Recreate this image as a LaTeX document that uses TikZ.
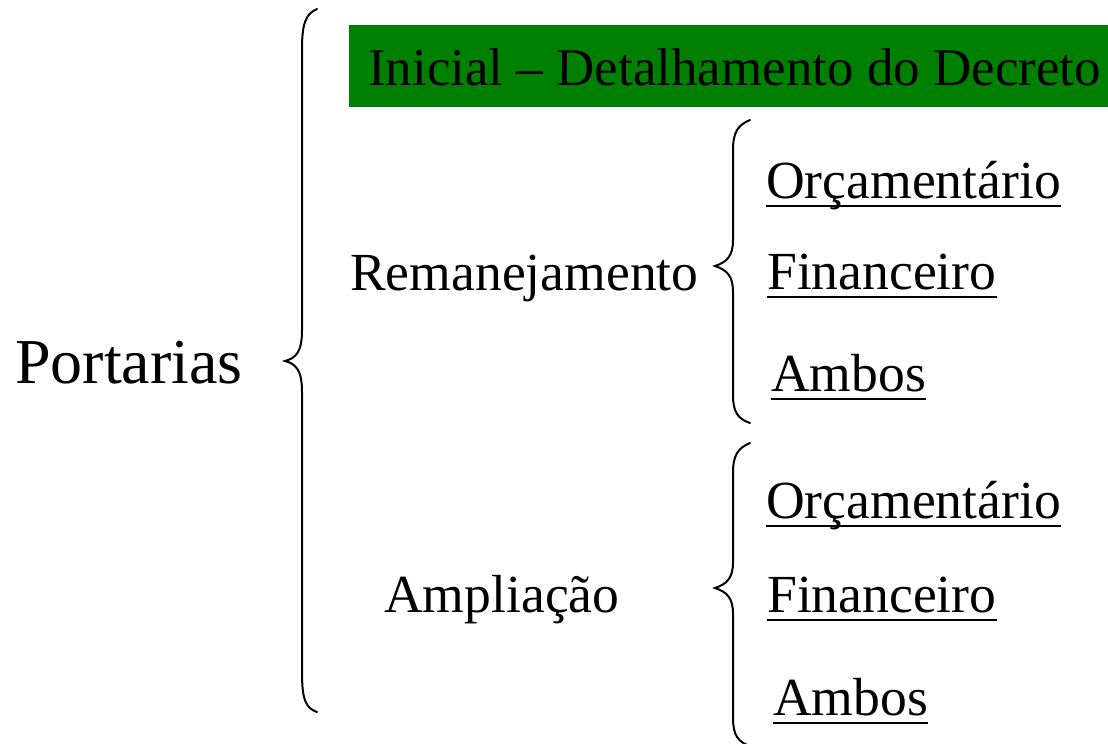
\documentclass[tikz,border=0pt]{standalone}
\usepackage{fontspec}
\setmainfont{Liberation Serif}
\definecolor{dgreen}{HTML}{008000}
\begin{document}
\begin{tikzpicture}[x=1pt,y=-1pt,
  txt/.style={inner sep=0pt,anchor=base west,font=\fontsize{53.6}{60}\selectfont},
  big/.style={inner sep=0pt,anchor=base west,font=\fontsize{64}{70}\selectfont},
  brace/.style={line width=2pt,line cap=round},
  uline/.style={line width=2.8pt}]
\useasboundingbox (0,0) rectangle (1108,744);
\node (bar) [fill=dgreen,inner sep=0pt,minimum width=759pt,minimum height=82pt,anchor=north west] at (349,25) {};
\node (ini) [txt,font=\fontsize{53}{60}\selectfont] at (368,85) {Inicial – Detalhamento do Decreto};
\node (port) [big] at (15,383) {Portarias};
\node (rem) [txt] at (350,290) {Remanejamento};
\node (amp) [txt] at (384,612) {Ampliação};
\node (o1) [txt] at (766,198) {Orçamentário};
\node (f1) [txt] at (767,289) {Financeiro};
\node (a1) [txt] at (771,391) {Ambos};
\node (o2) [txt] at (766,518) {Orçamentário};
\node (f2) [txt] at (767,612) {Financeiro};
\node (a2) [txt] at (773,715) {Ambos};
\foreach \n in {o1,f1,a1,o2,f2,a2}
  \draw[uline] ([yshift=-8pt]\n.base west) -- ([yshift=-8pt]\n.base east);
% big brace
\draw[brace] (317,9) .. controls (305,14) and (302,25) .. (302,50) -- (302,330)
  .. controls (302,352) and (296,358) .. (285,361)
  .. controls (296,364) and (302,370) .. (302,392) -- (302,672)
  .. controls (302,698) and (305,708) .. (317,712);
% small brace 1
\draw[brace] (750,120) .. controls (738,125) and (733,132) .. (733,150) -- (733,240)
  .. controls (733,256) and (727,262) .. (715,266)
  .. controls (727,270) and (733,276) .. (733,292) -- (733,395)
  .. controls (733,412) and (738,419) .. (750,423);
% small brace 2
\draw[brace] (750,443) .. controls (738,448) and (733,455) .. (733,473) -- (733,562)
  .. controls (733,578) and (727,584) .. (715,588)
  .. controls (727,592) and (733,598) .. (733,614) -- (733,718)
  .. controls (733,735) and (738,742) .. (750,746);
\end{tikzpicture}
\end{document}
